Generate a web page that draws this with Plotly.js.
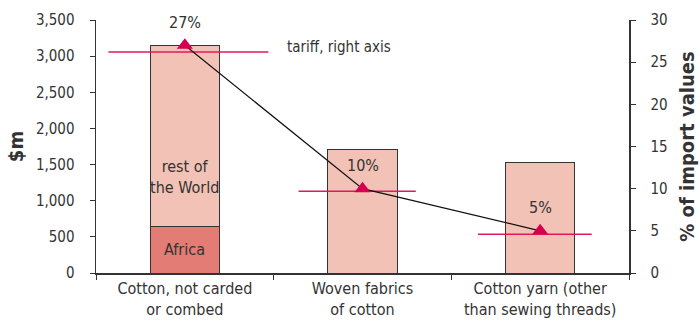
<!DOCTYPE html>
<html>
<head>
<meta charset="utf-8">
<script src="https://cdn.plot.ly/plotly-3.0.1.min.js"></script>
<style>html,body{margin:0;padding:0;background:#fff;}#chart{width:700px;height:323px;}</style>
</head>
<body>
<div id="chart"></div>
<script>
// ---- data ----
const categories = ['Cotton, not carded<br>or combed', 'Woven fabrics<br>of cotton', 'Cotton yarn (other<br>than sewing threads)'];
const africa = [640, 0, 0];
const restOfWorld = [2510, 1710, 1530];
const tariff = [27, 10, 5];
const tariffLabels = ['27%', '10%', '5%'];
const segmentNames = ['Africa', 'rest of<br>the World'];

// ---- style ----
const FONT = '"DejaVu Sans Condensed", "DejaVu Sans", sans-serif';
const TXT = '#333333';
const PINK_LINE = '#E0195F';
const lineHalf = [0.45, 0.33, 0.32];
const lineShift = [0.02, -0.03, -0.03];
const lineDrop = [0.8, 0.3, 0.4]; // line sits near triangle base

const idx = categories.map((_, i) => i);

const traces = [
  {type: 'bar', x: categories, y: africa, name: 'Africa', width: 0.39,
   marker: {color: '#E27C74', line: {color: '#333', width: 1}}, hoverinfo: 'skip'},
  {type: 'bar', x: categories, y: restOfWorld, name: 'rest of the World', width: 0.39,
   marker: {color: '#F2C2B6', line: {color: '#333', width: 1}}, hoverinfo: 'skip'}
];
idx.forEach(i => {
  traces.push({type: 'scatter', mode: 'lines', xaxis: 'x2', yaxis: 'y2',
    x: [i + lineShift[i] - lineHalf[i], i + lineShift[i] + lineHalf[i]],
    y: [tariff[i] - lineDrop[i], tariff[i] - lineDrop[i]],
    line: {color: PINK_LINE, width: 1.5}, showlegend: false, hoverinfo: 'skip'});
});
traces.push({type: 'scatter', mode: 'lines+markers', xaxis: 'x2', yaxis: 'y2',
  x: idx, y: tariff, line: {color: '#111', width: 1.2},
  marker: {symbol: 'triangle-up', size: 14, color: '#D5004F'}, showlegend: false, hoverinfo: 'skip'});

const annotations = idx.map(i => ({
  xref: 'x2', yref: 'y2', x: i, y: tariff[i], yshift: 23, text: tariffLabels[i],
  showarrow: false, font: {family: FONT, size: 16, color: TXT}
}));
annotations.push({xref: 'x2', yref: 'y2', x: 0.565, y: tariff[0], yshift: -2, xanchor: 'left',
  text: 'tariff, right axis', showarrow: false, font: {family: FONT, size: 15, color: TXT}});
annotations.push({xref: 'x', yref: 'y', x: categories[0], y: africa[0] / 2, text: segmentNames[0],
  showarrow: false, font: {family: FONT, size: 16, color: TXT}});
annotations.push({xref: 'x', yref: 'y', x: categories[0], y: 1330, text: segmentNames[1],
  showarrow: false, font: {family: FONT, size: 16, color: TXT}});

const layout = {
  width: 700, height: 323,
  margin: {l: 96, r: 71, t: 20, b: 50},
  paper_bgcolor: '#fff', plot_bgcolor: '#fff',
  barmode: 'stack', showlegend: false,
  font: {family: FONT, color: TXT, size: 15},
  xaxis: {type: 'category', range: [-0.5, 2.5], tickson: 'boundaries', ticks: 'outside', ticklen: 5,
    tickcolor: '#333', showline: true, linecolor: '#333', linewidth: 1.5, showgrid: false,
    tickfont: {family: FONT, size: 16, color: TXT}, fixedrange: true},
  yaxis: {range: [0, 3500], dtick: 500, tickformat: ',d', ticks: 'outside', ticklen: 5, tickcolor: '#333',
    showline: true, linecolor: '#333', linewidth: 1.5, showgrid: false, zeroline: false,
    tickfont: {family: FONT, size: 15, color: TXT}, ticklabelstandoff: 12,
    title: {text: '<b>$m</b>', font: {family: FONT, size: 20, color: TXT}, standoff: 7}},
  xaxis2: {overlaying: 'x', anchor: 'y2', range: [-0.5, 2.5], visible: false},
  yaxis2: {overlaying: 'y', side: 'right', anchor: 'x2', range: [0, 30], dtick: 5, ticks: 'outside', ticklen: 5,
    tickcolor: '#333', showline: true, linecolor: '#333', linewidth: 1.5, showgrid: false, zeroline: false,
    tickfont: {family: FONT, size: 15, color: TXT}, ticklabelstandoff: 12,
    title: {text: '<b>% of import values</b>', font: {family: FONT, size: 20, color: TXT}, standoff: 13}},
  annotations: annotations
};

Plotly.newPlot('chart', traces, layout, {displayModeBar: false, staticPlot: true});
</script>
</body>
</html>
